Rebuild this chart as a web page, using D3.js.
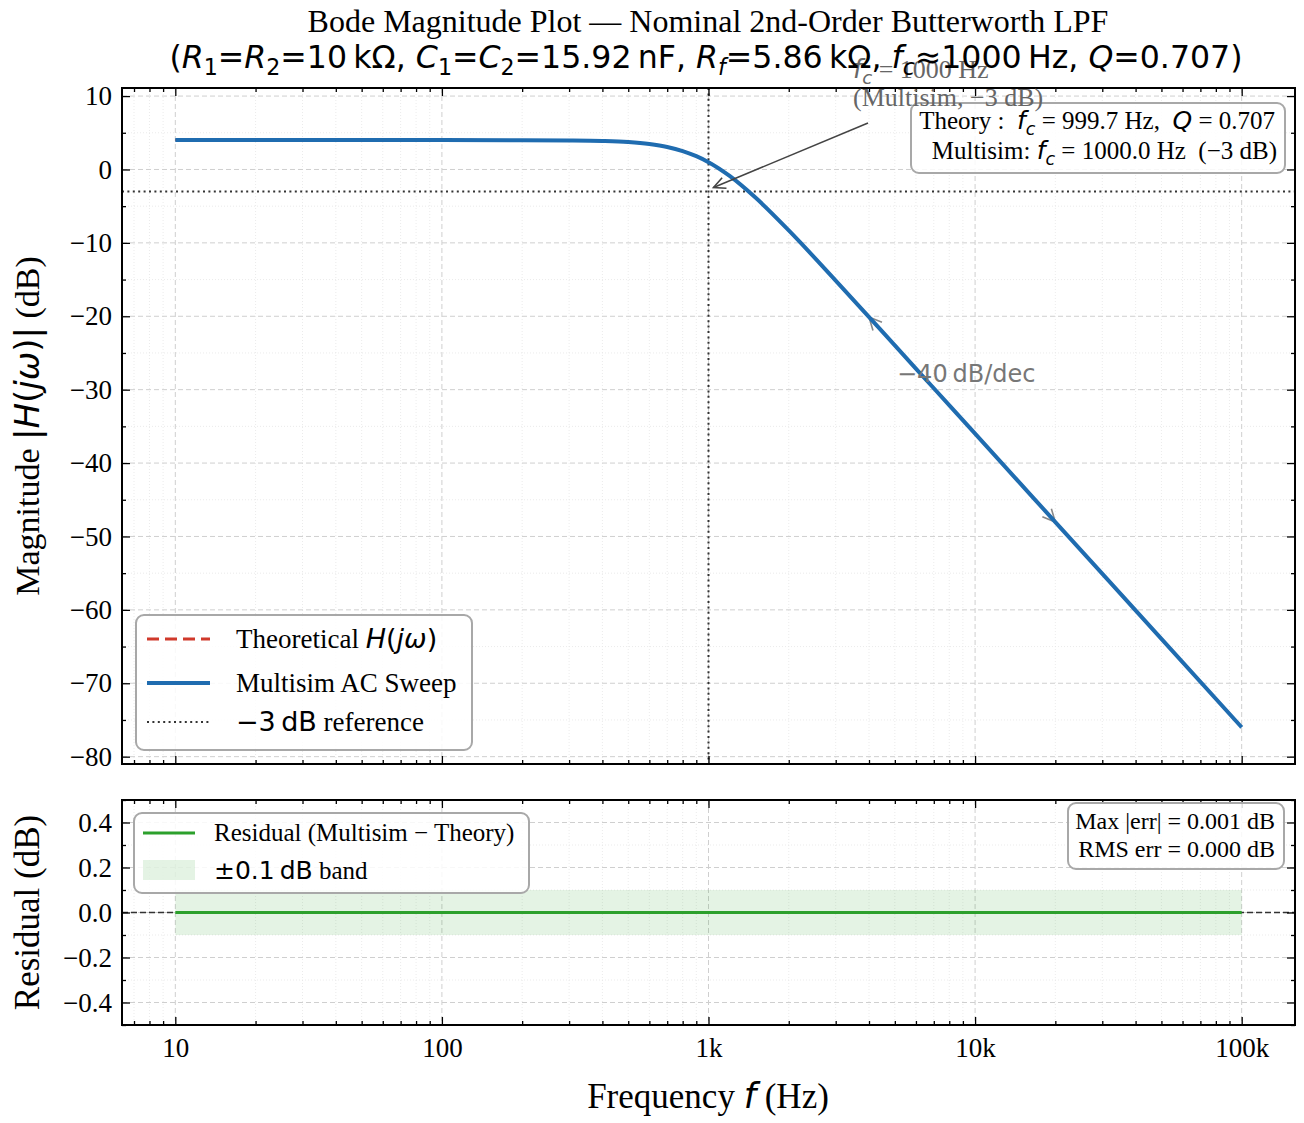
<!DOCTYPE html>
<html>
<head>
<meta charset="utf-8">
<script src="https://cdn.jsdelivr.net/npm/d3@7"></script>
<style>
body { margin: 0; background: #fff; }
svg text { white-space: pre; }
</style>
</head>
<body>
<div id="chart-area"></div>
<script>
// Data
var freqs = [10, 20, 50, 100, 200, 300, 400, 500, 600, 700, 800, 900, 1000,
             1200, 1500, 2000, 3000, 5000, 7000, 10000, 20000, 50000, 100000];
var multisimDb = [4.0, 4.0, 4.0, 4.0, 3.99, 3.96, 3.89, 3.74, 3.47, 3.07, 2.51, 1.81, 0.99,
                  -0.88, -3.83, -8.30, -15.14, -23.97, -29.81, -36.0, -48.04, -63.96, -76.0];
var theoryDb = [4.0, 4.0, 4.0, 4.0, 3.99, 3.96, 3.89, 3.74, 3.47, 3.07, 2.51, 1.81, 0.99,
                -0.88, -3.83, -8.30, -15.14, -23.97, -29.81, -36.0, -48.04, -63.96, -76.0];
var residualDb = [0, 0, 0, 0, 0, 0, 0, 0, 0, 0, 0, 0, 0,
                  0, 0, 0, 0, 0, 0, 0, 0, 0, 0];
var freqTicks = [10, 100, 1000, 10000, 100000];
var freqTickLabels = ["10", "100", "1k", "10k", "100k"];
var magTicks = [10, 0, -10, -20, -30, -40, -50, -60, -70, -80];
var resTicks = [0.4, 0.2, 0.0, -0.2, -0.4];
var fcMeasured = 1000;
var refLevel = -3;
var slopeMarks = [4000, 20000];
var slopeMarkDb = [-20.1, -48.04];
var bandHalf = 0.1;

var W = 1304, H = 1123;
var serif = "'Liberation Serif', 'Times New Roman', serif";
var math = "'DejaVu Sans', sans-serif";
var blue = "#1f6cb0", red = "#d0392b", green = "#2ca02c";
var dotted = "2,3.4";

var svg = d3.select("#chart-area").append("svg")
    .attr("width", W).attr("height", H)
    .attr("xml:space", "preserve");

var left = 122, right = 1295;
var top1 = 88, bot1 = 764, top2 = 800, bot2 = 1025;

// Scales
var x = d3.scaleLog().domain([6.31, 158489]).range([left, right]);
var y1 = d3.scaleLinear().domain([-81, 11.1]).range([bot1, top1]);
var y2 = d3.scaleLinear().domain([-0.5, 0.5]).range([bot2, top2]);

// minor ticks on log axis
var xMinor = [];
[1, 10, 100, 1000, 10000, 100000].forEach(function(d) {
    for (var k = 2; k <= 9; k++) {
        var v = k * d;
        if (v > 6.31 && v < 158489 && freqTicks.indexOf(v) < 0) xMinor.push(v);
    }
});
var magMinor = d3.range(-80, 11, 5).filter(function(v) { return magTicks.indexOf(v) < 0; });
var resMinor = [-0.5, -0.3, -0.1, 0.1, 0.3, 0.5];

// rich text helper: parts = [text, opts]
function rich(sel, parts, size) {
    var shifted = 0;
    parts.forEach(function(p) {
        var o = p[1] || {};
        var ts = sel.append("tspan").text(p[0])
            .attr("font-family", o.m ? math : serif)
            .attr("font-style", o.i ? "italic" : "normal")
            .attr("font-size", o.sub ? size * 0.7 : size);
        var want = o.sub ? size * 0.22 : 0;
        if (want !== shifted) { ts.attr("dy", want - shifted); shifted = want; }
    });
}

function panel(yScale, top, bot, yTicks, yMinor) {
    var g = svg.append("g");
    // grid
    g.selectAll(".gxm").data(xMinor).enter().append("line")
        .attr("x1", x).attr("x2", x).attr("y1", top).attr("y2", bot)
        .attr("stroke", "#e6e6e6").attr("stroke-width", 0.8).attr("stroke-dasharray", "1,2");
    g.selectAll(".gym").data(yMinor).enter().append("line")
        .attr("x1", left).attr("x2", right).attr("y1", yScale).attr("y2", yScale)
        .attr("stroke", "#e6e6e6").attr("stroke-width", 0.8).attr("stroke-dasharray", "1,2");
    g.selectAll(".gx").data(freqTicks).enter().append("line")
        .attr("x1", x).attr("x2", x).attr("y1", top).attr("y2", bot)
        .attr("stroke", "#cfcfcf").attr("stroke-width", 1).attr("stroke-dasharray", "5,3");
    g.selectAll(".gy").data(yTicks).enter().append("line")
        .attr("x1", left).attr("x2", right).attr("y1", yScale).attr("y2", yScale)
        .attr("stroke", "#cfcfcf").attr("stroke-width", 1).attr("stroke-dasharray", "5,3");
    return g;
}

function axes(yScale, top, bot, yTicks, yMinor, yFmt, showX) {
    var g = svg.append("g");
    var fmtX = function(d) { return freqTickLabels[freqTicks.indexOf(d)]; };
    function add(axis, tx, ty, labels) {
        var a = g.append("g").attr("transform", "translate(" + tx + "," + ty + ")").call(axis);
        a.select(".domain").remove();
        a.selectAll("line").attr("stroke", "#000").attr("stroke-width", 1.3);
        a.selectAll("text").attr("font-family", serif).attr("font-size", 27).attr("fill", "#000");
        if (!labels) a.selectAll("text").remove();
        return a;
    }
    add(d3.axisBottom(x).tickValues(freqTicks).tickSize(-8).tickPadding(13).tickFormat(fmtX), 0, bot, showX);
    add(d3.axisBottom(x).tickValues(xMinor).tickSize(-4).tickFormat(""), 0, bot, false);
    add(d3.axisTop(x).tickValues(freqTicks).tickSize(-8), 0, top, false);
    add(d3.axisTop(x).tickValues(xMinor).tickSize(-4), 0, top, false);
    add(d3.axisLeft(yScale).tickValues(yTicks).tickSize(-8).tickPadding(10).tickFormat(yFmt), left, 0, true);
    add(d3.axisLeft(yScale).tickValues(yMinor).tickSize(-4), left, 0, false);
    add(d3.axisRight(yScale).tickValues(yTicks).tickSize(-8), right, 0, false);
    add(d3.axisRight(yScale).tickValues(yMinor).tickSize(-4), right, 0, false);
    g.append("rect").attr("x", left).attr("y", top).attr("width", right - left).attr("height", bot - top)
        .attr("fill", "none").attr("stroke", "#000").attr("stroke-width", 2);
}

function openHead(g, tx, ty, fx, fy, color, len) {
    var ang = Math.atan2(ty - fy, tx - fx), a = 0.45;
    g.append("path")
        .attr("d", "M" + (tx - len * Math.cos(ang - a)) + "," + (ty - len * Math.sin(ang - a)) +
            "L" + tx + "," + ty +
            "L" + (tx - len * Math.cos(ang + a)) + "," + (ty - len * Math.sin(ang + a)))
        .attr("fill", "none").attr("stroke", color).attr("stroke-width", 1.6);
}

function box(g, bx, by, bw, bh) {
    g.append("rect").attr("x", bx).attr("y", by).attr("width", bw).attr("height", bh)
        .attr("rx", 8).attr("fill", "#fff").attr("fill-opacity", 0.85)
        .attr("stroke", "#a8a8a8").attr("stroke-width", 2);
}

var minus = function(v, dec) {
    var s = dec ? Math.abs(v).toFixed(dec) : String(Math.abs(v));
    return (v < 0 ? "\u2212" : "") + s;
};

// ---------- Top panel ----------
panel(y1, top1, bot1, magTicks, magMinor);
svg.append("clipPath").attr("id", "c1").append("rect")
    .attr("x", left).attr("y", top1).attr("width", right - left).attr("height", bot1 - top1);
var p1 = svg.append("g").attr("clip-path", "url(#c1)");

// reference lines
p1.append("line").attr("x1", left).attr("x2", right).attr("y1", y1(refLevel)).attr("y2", y1(refLevel))
    .attr("stroke", "#333").attr("stroke-width", 2).attr("stroke-dasharray", dotted);
p1.append("line").attr("x1", x(fcMeasured)).attr("x2", x(fcMeasured)).attr("y1", top1).attr("y2", bot1)
    .attr("stroke", "#333").attr("stroke-width", 2).attr("stroke-dasharray", dotted);

var line1 = d3.line().x(function(d) { return x(d[0]); }).y(function(d) { return y1(d[1]); })
    .curve(d3.curveMonotoneX);

// slope arrow (under the curve)
var sa = { x: x(slopeMarks[0]), y: y1(slopeMarkDb[0]) };
var sb = { x: x(slopeMarks[1]), y: y1(slopeMarkDb[1]) };
p1.append("line").attr("x1", sa.x).attr("y1", sa.y).attr("x2", sb.x).attr("y2", sb.y)
    .attr("stroke", "#888").attr("stroke-width", 1.5);
openHead(p1, sa.x, sa.y, sb.x, sb.y, "#888", 14);
openHead(p1, sb.x, sb.y, sa.x, sa.y, "#888", 14);

p1.append("path").datum(d3.zip(freqs, theoryDb)).attr("d", line1)
    .attr("fill", "none").attr("stroke", red).attr("stroke-width", 2.5).attr("stroke-dasharray", "9,5");
p1.append("path").datum(d3.zip(freqs, multisimDb)).attr("d", line1)
    .attr("fill", "none").attr("stroke", blue).attr("stroke-width", 4);

axes(y1, top1, bot1, magTicks, magMinor, function(d) { return minus(d); }, false);

// slope label
svg.append("text").attr("x", 897).attr("y", 382).attr("font-family", math).attr("font-size", 24)
    .attr("fill", "#777").text("\u221240\u2009dB/dec");

// theory box
var tb = svg.append("g");
box(tb, 911, 103, 374, 70);
var tt1 = tb.append("text").attr("x", 1275).attr("y", 129).attr("text-anchor", "end");
rich(tt1, [["Theory :  "], ["f", { m: 1, i: 1 }], ["c", { m: 1, i: 1, sub: 1 }], [" = 999.7 Hz,  "],
    ["Q", { m: 1, i: 1 }], [" = 0.707"]], 25);
var tt2 = tb.append("text").attr("x", 1277).attr("y", 159).attr("text-anchor", "end");
rich(tt2, [["Multisim: "], ["f", { m: 1, i: 1 }], ["c", { m: 1, i: 1, sub: 1 }], [" = 1000.0 Hz  (\u22123 dB)"]], 25);

// fc annotation (drawn over the box)
var ann = svg.append("g");
var tip = { x: x(fcMeasured) + 5, y: y1(refLevel) - 4 };
ann.append("line").attr("x1", 868).attr("y1", 123).attr("x2", tip.x).attr("y2", tip.y)
    .attr("stroke", "#444").attr("stroke-width", 1.6);
openHead(ann, tip.x, tip.y, 868, 123, "#444", 13);
var at1 = ann.append("text").attr("x", 853).attr("y", 78).attr("fill", "#666");
rich(at1, [["f", { m: 1, i: 1 }], ["c", { m: 1, i: 1, sub: 1 }], [" = 1000 Hz"]], 26);
ann.append("text").attr("x", 853).attr("y", 106).attr("fill", "#666")
    .attr("font-family", serif).attr("font-size", 26).text("(Multisim, \u22123 dB)");

// legend
var lg = svg.append("g");
box(lg, 136, 615, 336, 135);
lg.append("line").attr("x1", 147).attr("x2", 210).attr("y1", 639).attr("y2", 639)
    .attr("stroke", red).attr("stroke-width", 3).attr("stroke-dasharray", "12,6");
lg.append("line").attr("x1", 147).attr("x2", 210).attr("y1", 683).attr("y2", 683)
    .attr("stroke", blue).attr("stroke-width", 4);
lg.append("line").attr("x1", 147).attr("x2", 210).attr("y1", 722).attr("y2", 722)
    .attr("stroke", "#333").attr("stroke-width", 2).attr("stroke-dasharray", dotted);
var l1 = lg.append("text").attr("x", 236).attr("y", 648);
rich(l1, [["Theoretical "], ["H", { m: 1, i: 1 }], ["(", { m: 1 }], ["j\u03c9", { m: 1, i: 1 }], [")", { m: 1 }]], 27);
lg.append("text").attr("x", 236).attr("y", 692).attr("font-family", serif).attr("font-size", 27)
    .text("Multisim AC Sweep");
var l3 = lg.append("text").attr("x", 236).attr("y", 731);
rich(l3, [["\u22123\u2009dB", { m: 1 }], [" reference"]], 27);

// ---------- Residual panel ----------
panel(y2, top2, bot2, resTicks, resMinor);
svg.append("line").attr("x1", left).attr("x2", right).attr("y1", y2(0)).attr("y2", y2(0))
    .attr("stroke", "#333").attr("stroke-width", 1.3).attr("stroke-dasharray", "6,3");
svg.append("rect").attr("x", x(freqs[0])).attr("width", x(freqs[freqs.length - 1]) - x(freqs[0]))
    .attr("y", y2(bandHalf)).attr("height", y2(-bandHalf) - y2(bandHalf))
    .attr("fill", green).attr("fill-opacity", 0.13);
var line2 = d3.line().x(function(d) { return x(d[0]); }).y(function(d) { return y2(d[1]); });
svg.append("path").datum(d3.zip(freqs, residualDb)).attr("d", line2)
    .attr("fill", "none").attr("stroke", green).attr("stroke-width", 2.8);

axes(y2, top2, bot2, resTicks, resMinor, function(d) { return minus(d, 1); }, true);

var rl = svg.append("g");
box(rl, 134, 813, 395, 80);
rl.append("line").attr("x1", 143).attr("x2", 195).attr("y1", 833).attr("y2", 833)
    .attr("stroke", green).attr("stroke-width", 2.8);
rl.append("rect").attr("x", 143).attr("y", 860).attr("width", 52).attr("height", 20)
    .attr("fill", green).attr("fill-opacity", 0.13);
rl.append("text").attr("x", 214).attr("y", 841).attr("font-family", serif).attr("font-size", 25)
    .text("Residual (Multisim \u2212 Theory)");
var r2 = rl.append("text").attr("x", 214).attr("y", 879);
rich(r2, [["\u00b10.1\u2009dB", { m: 1 }], [" band"]], 25);

var sb2 = svg.append("g");
box(sb2, 1068, 803, 216, 66);
sb2.append("text").attr("x", 1275).attr("y", 829).attr("text-anchor", "end")
    .attr("font-family", serif).attr("font-size", 24).text("Max |err| = 0.001 dB");
sb2.append("text").attr("x", 1275).attr("y", 857).attr("text-anchor", "end")
    .attr("font-family", serif).attr("font-size", 24).text("RMS err = 0.000 dB");

// ---------- Titles and labels ----------
svg.append("text").attr("x", 708).attr("y", 32).attr("text-anchor", "middle")
    .attr("font-family", serif).attr("font-size", 32).text("Bode Magnitude Plot \u2014 Nominal 2nd-Order Butterworth LPF");
var t2 = svg.append("text").attr("x", 706).attr("y", 68).attr("text-anchor", "middle");
var I = { m: 1, i: 1 }, M = { m: 1 }, S = { m: 1, sub: 1 }, SI = { m: 1, i: 1, sub: 1 };
rich(t2, [["(", M], ["R", I], ["1", S], ["=", M], ["R", I], ["2", S], ["=10\u2009k\u03a9, ", M],
    ["C", I], ["1", S], ["=", M], ["C", I], ["2", S], ["=15.92\u2009nF, ", M],
    ["R", I], ["f", SI], ["=5.86\u2009k\u03a9, ", M], ["f", I], ["c", SI], ["\u22481000\u2009Hz, ", M],
    ["Q", I], ["=0.707)", M]], 31.6);

var yl = svg.append("text").attr("transform", "translate(39," + ((top1 + bot1) / 2) + ") rotate(-90)")
    .attr("text-anchor", "middle");
rich(yl, [["Magnitude "], ["|", M], ["H", I], ["(", M], ["j\u03c9", I], [")|", M], [" (dB)"]], 34);

svg.append("text").attr("transform", "translate(39," + ((top2 + bot2) / 2) + ") rotate(-90)")
    .attr("text-anchor", "middle").attr("font-family", serif).attr("font-size", 35).text("Residual (dB)");

var xl = svg.append("text").attr("x", 708).attr("y", 1108).attr("text-anchor", "middle");
rich(xl, [["Frequency "], ["f", I], [" (Hz)"]], 35);
</script>
</body>
</html>
